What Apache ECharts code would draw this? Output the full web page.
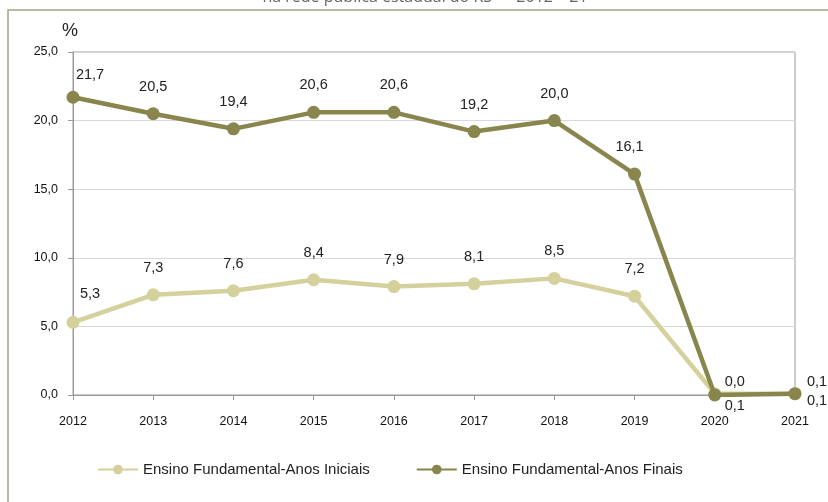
<!DOCTYPE html>
<html><head><meta charset="utf-8">
<script src="https://cdn.jsdelivr.net/npm/echarts@6/dist/echarts.min.js"></script>
<style>html,body{margin:0;padding:0;background:#fff}#c{width:828px;height:502px}</style>
</head><body><div id="c"></div>
<script>
const years = ['2012','2013','2014','2015','2016','2017','2018','2019','2020','2021'];
const iniciais = [5.3, 7.3, 7.6, 8.4, 7.9, 8.1, 8.5, 7.2, 0.1, 0.1];
const finais = [21.7, 20.5, 19.4, 20.6, 20.6, 19.2, 20.0, 16.1, 0.0, 0.1];
const yTicks = [0, 5, 10, 15, 20, 25];
const seriesNames = ['Ensino Fundamental-Anos Iniciais', 'Ensino Fundamental-Anos Finais'];
const titleText = 'na rede pública estadual do RS — 2012 – 21';

const fmt = v => v.toFixed(1).replace('.', ',');
const offIni = [[17,-28],[0,-27],[0,-27],[0,-27],[0,-27],[0,-27],[0,-27],[0,-27],[20,12],[22,7]];
const offFin = [[17,-22],[0,-27],[0,-27],[0,-27],[0,-27],[0,-27],[0,-27],[-5,-27],[20,-13],[22,-12]];
function mk(vals, offs){
  return vals.map((v,i)=>({value:v,label:{offset:offs[i]}}));
}
const chart = echarts.init(document.getElementById('c'));
const labelStyle = {show:true, position:'inside', fontFamily:'Arial', fontSize:14.5, color:'#222', formatter:p=>fmt(p.value)};
chart.setOption({
  animation:false,
  backgroundColor:'#fff',
  graphic:[
    {type:'rect', shape:{x:8,y:10,width:840,height:520}, style:{fill:'none',stroke:'#a3a386',lineWidth:1.5}, silent:true},
    {type:'text', x:425, y:5, style:{text:titleText, font:'16px "Open Sans"', fill:'#666', align:'center', verticalAlign:'bottom'}},
    {type:'text', x:62, y:22, style:{text:'%', font:'18px Arial', fill:'#222'}}
  ],
  grid:{left:73, right:33, top:52, bottom:107, show:true, borderColor:'#9a9a9a', borderWidth:1, backgroundColor:'transparent'},
  legend:{
    data:seriesNames, left:92, top:457, itemWidth:40, itemHeight:12, itemGap:46,
    textStyle:{fontFamily:'Arial', fontSize:15, color:'#222'}
  },
  xAxis:{
    type:'category', data:years, boundaryGap:false,
    axisLine:{lineStyle:{color:'#9a9a9a'}},
    axisTick:{show:true, length:5, lineStyle:{color:'#9a9a9a'}},
    axisLabel:{fontFamily:'Arial', fontSize:12.5, color:'#111', margin:20}
  },
  yAxis:{
    type:'value', min:yTicks[0], max:yTicks[yTicks.length-1], interval:5,
    axisLine:{show:true, lineStyle:{color:'#9a9a9a'}},
    axisTick:{show:true, length:5, lineStyle:{color:'#9a9a9a'}},
    axisLabel:{fontFamily:'Arial', fontSize:12.5, color:'#111', margin:15, formatter:v=>fmt(v)},
    splitLine:{lineStyle:{color:'#d9d9d9'}}
  },
  series:[
    {name:seriesNames[0], type:'line', data:mk(iniciais, offIni), color:'#d4d19c',
     symbol:'circle', symbolSize:13, lineStyle:{width:4.5}, label:labelStyle, z:2},
    {name:seriesNames[1], type:'line', data:mk(finais, offFin), color:'#88854d',
     symbol:'circle', symbolSize:13, lineStyle:{width:4.5}, label:labelStyle, z:3}
  ]
});
</script></body></html>
